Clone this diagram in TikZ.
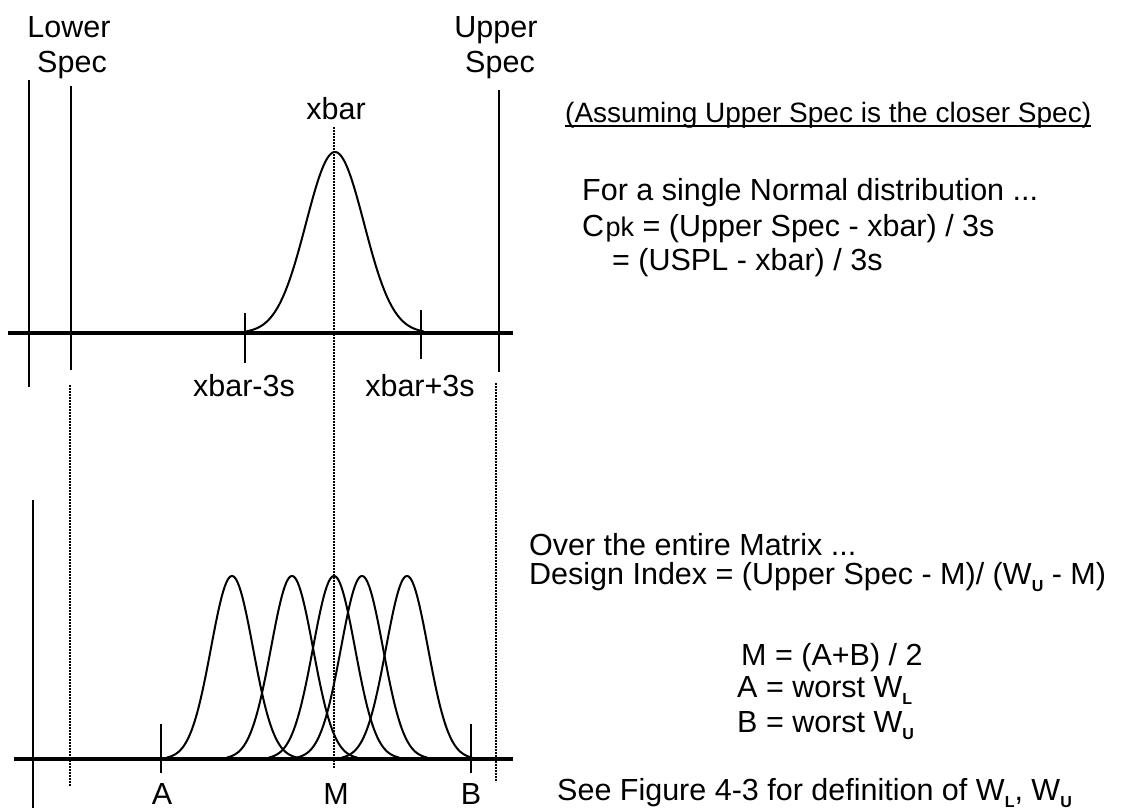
\documentclass[tikz,border=0pt]{standalone}
\usepackage{fontspec}
\setmainfont{Liberation Sans}
\newcommand{\wsub}[1]{\raisebox{-7pt}{\fontsize{16}{16}\selectfont\bfseries #1}}
\begin{document}
\begin{tikzpicture}[x=1pt,y=-1pt,
  lbl/.style={inner sep=0pt, font=\fontsize{30.5}{36}\selectfont},
  vline/.style={line width=2pt},
  axisline/.style={line width=4pt},
  dotline/.style={line width=1.5pt, dash pattern=on 1.5pt off 1.5pt},
  gauss/.style={line width=2pt, line join=round}]
\useasboundingbox (0,0) rectangle (1122,808);

% ---------- top panel ----------
\coordinate (ta1) at (29,80);   \coordinate (ta2) at (29,387);
\coordinate (tl1) at (71,86);   \coordinate (tl2) at (71,370);
\coordinate (tu1) at (499,90);  \coordinate (tu2) at (499,372);
\coordinate (tx1) at (8,333);   \coordinate (tx2) at (513,333);
\coordinate (tk1a) at (245,313); \coordinate (tk1b) at (245,363);
\coordinate (tk2a) at (421,310); \coordinate (tk2b) at (421,359);

\draw[vline] (ta1) -- (ta2);
\draw[vline] (tl1) -- (tl2);
\draw[vline] (tu1) -- (tu2);
\draw[vline] (tk1a) -- (tk1b);
\draw[vline] (tk2a) -- (tk2b);
\draw[gauss] plot[domain=-3.05:3.05, samples=120] ({335+29*\x},{333-181*exp(-\x*\x/2)});
\draw[axisline] (tx1) -- (tx2);

% dotted guide lines
\coordinate (dl1) at (70,385);  \coordinate (dl2) at (70,787);
\coordinate (dc1) at (334,127); \coordinate (dc2) at (334,768);
\coordinate (du1) at (496,383); \coordinate (du2) at (496,782);
\draw[dotline] (dl1) -- (dl2);
\draw[dotline] (dc1) -- (dc2);
\draw[dotline] (du1) -- (du2);

\node[lbl, anchor=base] (lower1) at (69,38) {Lower};
\node[lbl, anchor=base] (lower2) at (72,73) {Spec};
\node[lbl, anchor=base] (upper1) at (496,38) {Upper};
\node[lbl, anchor=base] (upper2) at (500,73) {Spec};
\node[lbl, anchor=base] (xbar) at (336,119) {xbar};
\node[lbl, anchor=base] (xm) at (244,396) {xbar-3s};
\node[lbl, anchor=base] (xp) at (420,396) {xbar+3s};

% ---------- bottom panel ----------
\coordinate (ba1) at (33,500);  \coordinate (ba2) at (33,808);
\coordinate (bx1) at (14,759);  \coordinate (bx2) at (513,759);
\coordinate (bA1) at (161,724); \coordinate (bA2) at (161,773);
\coordinate (bB1) at (471,724); \coordinate (bB2) at (471,773);
\draw[vline] (ba1) -- (ba2);
\draw[vline] (bA1) -- (bA2);
\draw[vline] (bB1) -- (bB2);
\foreach \m in {232,292,334,362,407}{
  \draw[gauss] plot[domain=-3.1:3.1, samples=100] ({\m+21*\x},{759-183*exp(-\x*\x/2)});
}
\draw[axisline] (bx1) -- (bx2);

\node[lbl, anchor=base] (labA) at (162,804) {A};
\node[lbl, anchor=base] (labM) at (336,804) {M};
\node[lbl, anchor=base] (labB) at (471,804) {B};

% ---------- right-hand text ----------
\node[lbl, anchor=base west, font=\fontsize{28}{33}\selectfont] (assume) at (565,122) {(Assuming Upper Spec is the closer Spec)};
\draw[line width=1.8pt] ([yshift=-4pt]assume.base west) -- ([yshift=-4pt]assume.base east);

\node[lbl, anchor=base west] (single) at (582,200) {For a single Normal distribution ...};
\node[lbl, anchor=base west] (cpk) at (582,236) {C\kern1.5pt{\fontsize{27}{30}\selectfont pk} = (Upper Spec - xbar) / 3s};
\node[lbl, anchor=base west] (uspl) at (612,270) {= (USPL - xbar) / 3s};

\node[lbl, anchor=base west] (over) at (529,555) {Over the entire Matrix ...};
\node[lbl, anchor=base west] (design) at (529,584) {Design Index = (Upper Spec - M)/ (W\wsub{U} - M)};
\node[lbl, anchor=base west] (mdef) at (741,665) {M = (A+B) / 2};
\node[lbl, anchor=base west] (adef) at (737,697) {A = worst W\wsub{L}};
\node[lbl, anchor=base west] (bdef) at (737,732) {B = worst W\wsub{U}};
\node[lbl, anchor=base west] (see) at (557,800) {See Figure 4-3 for definition of W\wsub{L}, W\wsub{U}};
\end{tikzpicture}
\end{document}
